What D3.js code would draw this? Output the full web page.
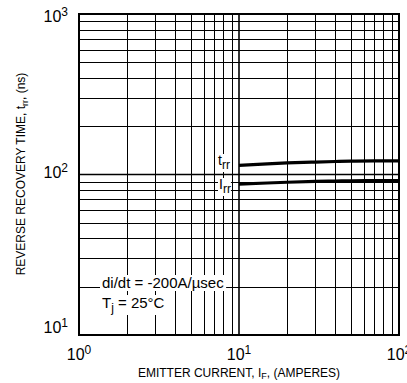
<!DOCTYPE html>
<meta charset="utf-8">
<script src="https://d3js.org/d3.v7.min.js"></script>
<style>
  body { margin: 0; background: #fff; }
  text { font-family: Arial, "Liberation Sans", sans-serif; fill: #000; }
</style>
<div id="chart"></div>
<script>
// data
const current = [10, 15, 20, 30, 40, 50, 70, 100];
const trr = [114, 116.5, 118, 119.5, 120.5, 121, 121.5, 121.5];
const irr = [87, 88.5, 89.5, 90.5, 91, 91.3, 91.5, 91.5];
const xDecades = [1, 10, 100];
const yDecades = [10, 100, 1000];

const W = 407, H = 383;
const margin = { top: 14, right: 8, bottom: 48, left: 79 };
const width = 320, height = 321;

const svg = d3.select("#chart").append("svg")
  .attr("width", W).attr("height", H);
const g = svg.append("g").attr("transform", `translate(${margin.left},${margin.top})`);

const x = d3.scaleLog().domain([1, 100]).range([0, width]);
const y = d3.scaleLog().domain([10, 1000]).range([height, 0]);

// grid lines
const minor = (lo, hi) => {
  const v = [];
  for (let d = lo; d < hi; d *= 10) for (let k = 2; k <= 9; k++) v.push(d * k);
  return v;
};
g.selectAll(".gx").data(minor(1, 100)).join("line")
  .attr("x1", d => Math.round(x(d)) + 0.5).attr("x2", d => Math.round(x(d)) + 0.5)
  .attr("y1", 0).attr("y2", height)
  .attr("stroke", "#000").attr("stroke-width", 1);
g.selectAll(".gy").data(minor(10, 1000)).join("line")
  .attr("y1", d => Math.round(y(d)) + 0.5).attr("y2", d => Math.round(y(d)) + 0.5)
  .attr("x1", 0).attr("x2", width)
  .attr("stroke", "#000").attr("stroke-width", 1);
// decade lines
g.append("line").attr("x1", x(10)).attr("x2", x(10)).attr("y1", 0).attr("y2", height)
  .attr("stroke", "#000").attr("stroke-width", 1.6);
g.append("line").attr("y1", y(100)).attr("y2", y(100)).attr("x1", 0).attr("x2", width)
  .attr("stroke", "#000").attr("stroke-width", 1.6);

// curves
const line = d3.line().x(d => x(d[0])).y(d => y(d[1])).curve(d3.curveMonotoneX);
g.append("path").datum(current.map((c, i) => [c, trr[i]]))
  .attr("d", line).attr("fill", "none").attr("stroke", "#000").attr("stroke-width", 3.2);
g.append("path").datum(current.map((c, i) => [c, irr[i]]))
  .attr("d", line).attr("fill", "none").attr("stroke", "#000").attr("stroke-width", 3.2);

// frame
g.append("rect").attr("x", 0).attr("y", 0).attr("width", width).attr("height", height)
  .attr("fill", "none").attr("stroke", "#000").attr("stroke-width", 2);

// curve labels with white backgrounds
function subLabel(px, py, main, sub) {
  const t = g.append("text").attr("x", px).attr("y", py).style("font-size", "14px");
  t.append("tspan").text(main);
  t.append("tspan").attr("dy", 4).style("font-size", "12px").text(sub);
  const b = t.node().getBBox();
  g.insert("rect", "text").attr("x", b.x - 1).attr("y", b.y + 2).attr("width", b.width + 1)
    .attr("height", b.height - 2).attr("fill", "#fff");
  return t;
}
subLabel(218 - margin.left, 165 - margin.top, "t", "rr");
subLabel(219 - margin.left, 189 - margin.top, "I", "rr");

// condition text
const c1 = g.append("text").attr("x", 23).attr("y", 274).style("font-size", "15px")
  .text("di/dt = -200A/\u00b5sec");
const c2 = g.append("text").attr("x", 23).attr("y", 294).style("font-size", "15px");
c2.append("tspan").text("T");
c2.append("tspan").attr("dy", 4).style("font-size", "12px").text("j");
c2.append("tspan").attr("dy", -4).text(" = 25\u00b0C");
[c1, c2].forEach(t => {
  const b = t.node().getBBox();
  g.insert("rect", "text").attr("x", b.x - 2).attr("y", b.y + 1).attr("width", b.width + 4)
    .attr("height", b.height - 1).attr("fill", "#fff");
});

// tick labels
function powLabel(sel, exp) {
  sel.append("tspan").text("10");
  sel.append("tspan").attr("dy", -6).style("font-size", "12px").text(exp);
}
xDecades.forEach(d => {
  const t = g.append("text").attr("x", x(d)).attr("y", height + 25)
    .attr("text-anchor", "middle").style("font-size", "16px");
  powLabel(t, Math.round(Math.log10(d)));
});
yDecades.forEach(d => {
  const yy = Math.max(8, Math.min(height - 2, y(d) + 3));
  const t = g.append("text").attr("x", -11).attr("y", yy)
    .attr("text-anchor", "end").style("font-size", "16px");
  powLabel(t, Math.round(Math.log10(d)));
});

// axis titles
const xt = svg.append("text").attr("x", margin.left + x(10)).attr("y", 377)
  .attr("text-anchor", "middle").style("font-size", "12px");
xt.append("tspan").text("EMITTER CURRENT, I");
xt.append("tspan").attr("dy", 2).style("font-size", "9px").text("F");
xt.append("tspan").attr("dy", -2).text(", (AMPERES)");

const yt = svg.append("text")
  .attr("transform", `translate(25,174) rotate(-90)`)
  .attr("text-anchor", "middle").style("font-size", "12px");
yt.append("tspan").text("REVERSE RECOVERY TIME, t");
yt.append("tspan").attr("dy", 3).style("font-size", "9px").text("rr");
yt.append("tspan").attr("dy", -3).text(", (ns)");
</script>
